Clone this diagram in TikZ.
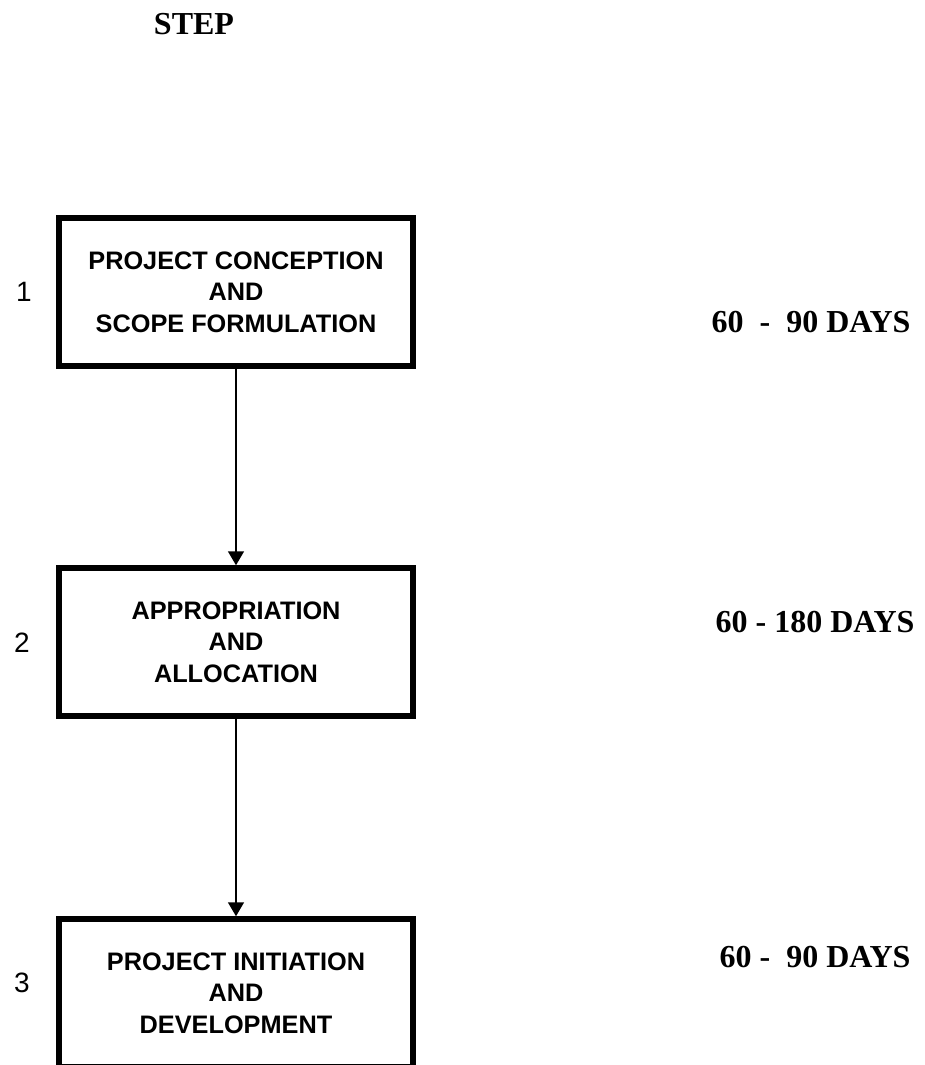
\documentclass[tikz,border=0pt]{standalone}
\usepackage{fontspec}
\setmainfont{Liberation Serif}
\newfontfamily\arialfont{Liberation Sans}
\usetikzlibrary{arrows.meta}
\begin{document}
\begin{tikzpicture}[x=1pt,y=-1pt,
  stepbox/.style={draw,line width=5.5pt,minimum width=354pt,minimum height=148pt,inner sep=0pt,
     align=center,font=\arialfont\bfseries\fontsize{25.3}{31.5}\selectfont},
  numlabel/.style={font=\arialfont\fontsize{28}{32}\selectfont,anchor=center},
  daylabel/.style={font=\bfseries\fontsize{32}{36}\selectfont,anchor=base east},
  conn/.style={line width=1.5pt,-{Triangle[width=16pt,length=14pt]}}]
\useasboundingbox (0,0) rectangle (924,1065);
\clip (0,0) rectangle (924,1065);
\node[font=\bfseries\fontsize{32}{36}\selectfont,anchor=base] (title) at (194,35) {STEP};
\node[stepbox] (b1) at (236,292) {PROJECT CONCEPTION\\AND\\SCOPE FORMULATION};
\node[stepbox] (b2) at (236,642) {APPROPRIATION\\AND\\ALLOCATION};
\node[stepbox] (b3) at (236,993) {PROJECT INITIATION\\AND\\DEVELOPMENT};
\node[numlabel] (n1) at (24,292) {1};
\node[numlabel] (n2) at (22,643) {2};
\node[numlabel] (n3) at (22,983) {3};
\node[daylabel] (d1) at (914,332) {60\ \ -\ \ 90 DAYS};
\node[daylabel] (d2) at (918,632) {60 - 180 DAYS};
\node[daylabel] (d3) at (914,967) {60 -\ \ 90 DAYS};
\draw[conn] (b1.south) -- (b2.north);
\draw[conn] (b2.south) -- (b3.north);
\end{tikzpicture}
\end{document}
